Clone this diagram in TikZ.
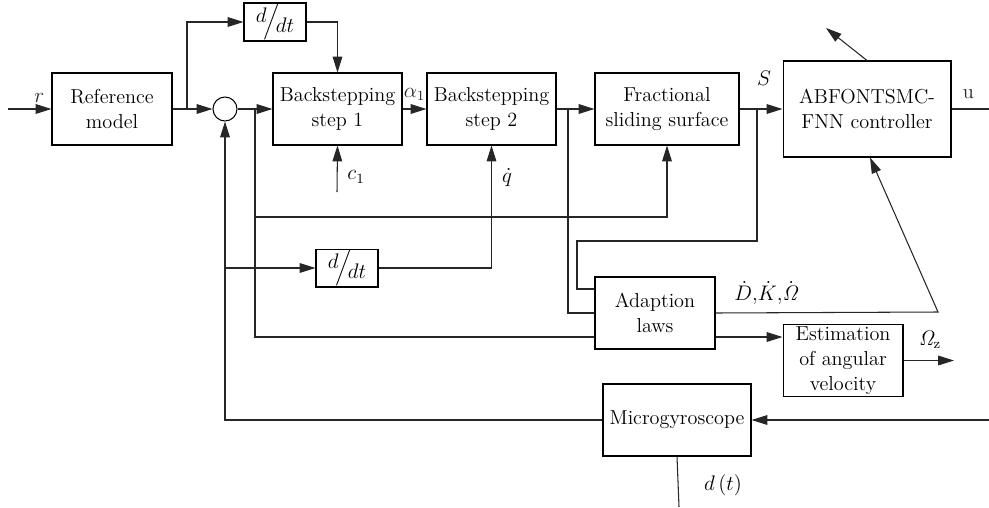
\documentclass[tikz,border=0pt]{standalone}
\usepackage{amsmath}
\usepackage{amssymb}
\usetikzlibrary{arrows.meta}

\newcommand{\ddtfrac}{$\raisebox{2.5pt}{$d$}\!\Big/\!\raisebox{-3pt}{$dt$}$}

\begin{document}
\begin{tikzpicture}[x=0.02cm, y=-0.02cm,
    every node/.style={font=\fontsize{11.5}{14.4}\selectfont},
    block/.style={draw, line width=0.6pt, align=center, inner sep=1pt},
    wire/.style={line width=0.6pt, black!85},
    arr/.style={wire, -{Triangle[length=9pt, width=5.5pt]}}]
    \useasboundingbox (0,0) rectangle (989,507);

    % main blocks
    \node[block, minimum width=2.4cm, minimum height=1.44cm] (ref) at (112,109) {Reference\\model};
    \node[draw, line width=0.6pt, circle, minimum size=0.48cm, inner sep=0] (sum) at (225,109) {};
    \node[block, minimum width=2.58cm, minimum height=1.44cm] (bs1) at (337.5,109) {Backstepping\\step 1};
    \node[block, minimum width=2.58cm, minimum height=1.44cm] (bs2) at (491.5,109) {Backstepping\\step 2};
    \node[block, minimum width=2.88cm, minimum height=1.44cm] (fss) at (667,109) {Fractional\\sliding surface};
    \node[block, minimum width=3.36cm, minimum height=1.92cm] (ctrl) at (867,109) {ABFONTSMC-\\FNN controller};
    \node[block, minimum width=1.24cm, minimum height=0.68cm, inner sep=0] (ddtA) at (275,22) {\ddtfrac};
    \node[block, minimum width=1.24cm, minimum height=0.74cm, inner sep=0] (ddtB) at (347,268) {\ddtfrac};
    \node[block, minimum width=2.4cm, minimum height=1.44cm] (adapt) at (655,313) {Adaption\\laws};
    \node[block, minimum width=2.4cm, minimum height=1.42cm] (est) at (843,360.5) {Estimation\\of angular\\velocity};
    \node[block, minimum width=2.96cm, minimum height=1.44cm] (gyro) at (677,420) {Microgyroscope};

    % branch points and free ends
    \coordinate (rin) at (8,109);
    \coordinate (jA) at (187,109);
    \coordinate (jB) at (255,109);
    \coordinate (jC) at (568,109);
    \coordinate (jD) at (757,109);
    \coordinate (uout) at (989,109);
    \coordinate (cin) at (337,192);
    \coordinate (yA) at (0,217);
    \coordinate (yB) at (0,337);
    \coordinate (sA) at (757,241);
    \coordinate (sB) at (577,289);
    \coordinate (kA) at (938,312);
    \coordinate (wout) at (954,360.5);
    \coordinate (gin) at (989,420);
    \coordinate (dist) at (679,507);
    \coordinate (tune) at (826,28);

    % forward path
    \draw[arr] (rin) -- (ref.west) node[pos=0.72, above] {$r$};
    \draw[arr] (ref.east) -- (sum.west);
    \draw[arr] (jA) |- (ddtA.west);
    \draw[arr] (ddtA.east) -| (bs1.north);
    \draw[arr] (sum.east) -- (bs1.west);
    \draw[arr] (bs1.east) -- (bs2.west) node[midway, above=1pt] {$\alpha_1$};
    \draw[arr] (cin) -- (bs1.south);
    \node at (356,177) {$c_1$};
    \draw[arr] (bs2.east) -- (fss.west);
    \draw[arr] (fss.east) -- (ctrl.west);
    \node at (764,78) {$S$};
    \draw[wire] (ctrl.east) -- (uout) node[pos=0.45, above=2pt] {u};
    \draw[arr] (ctrl.north) -- (tune);

    % error signal branches
    \draw[arr] (jB) |- (fss.south |- yA) -- (fss.south);
    \draw[wire] (jB) |- (adapt.west |- yB);
    \draw[arr] (sum.south |- ddtB.west) -- (ddtB.west);
    \draw[arr] (ddtB.east) -| (bs2.south);
    \node at (507,178) {$\dot{q}$};

    % adaption laws
    \draw[wire] (jC) |- (adapt.west);
    \draw[wire] (jD) -- (sA) -| (sB) -- (adapt.west |- sB);
    \draw[arr] (adapt.east) -- (kA) -- ([xshift=0.06cm]ctrl.south);
    \node at (767,293) {$\dot{D}{,}\dot{K}{,}\dot{\mathit{\Omega}}$};
    \draw[arr] (adapt.east |- yB) -- (est.west |- yB);
    \draw[arr] (est.east) -- (wout);
    \node at (930,340) {$\mathit{\Omega}_{\mathrm{z}}$};

    % plant and feedback
    \draw[arr] (gin) -- (gyro.east);
    \draw[arr] (gyro.west) -| (sum.south);
    \draw[wire] (gyro.south) -- (dist);
    \node at (723,485) {$d\,(t)$};
\end{tikzpicture}
\end{document}
